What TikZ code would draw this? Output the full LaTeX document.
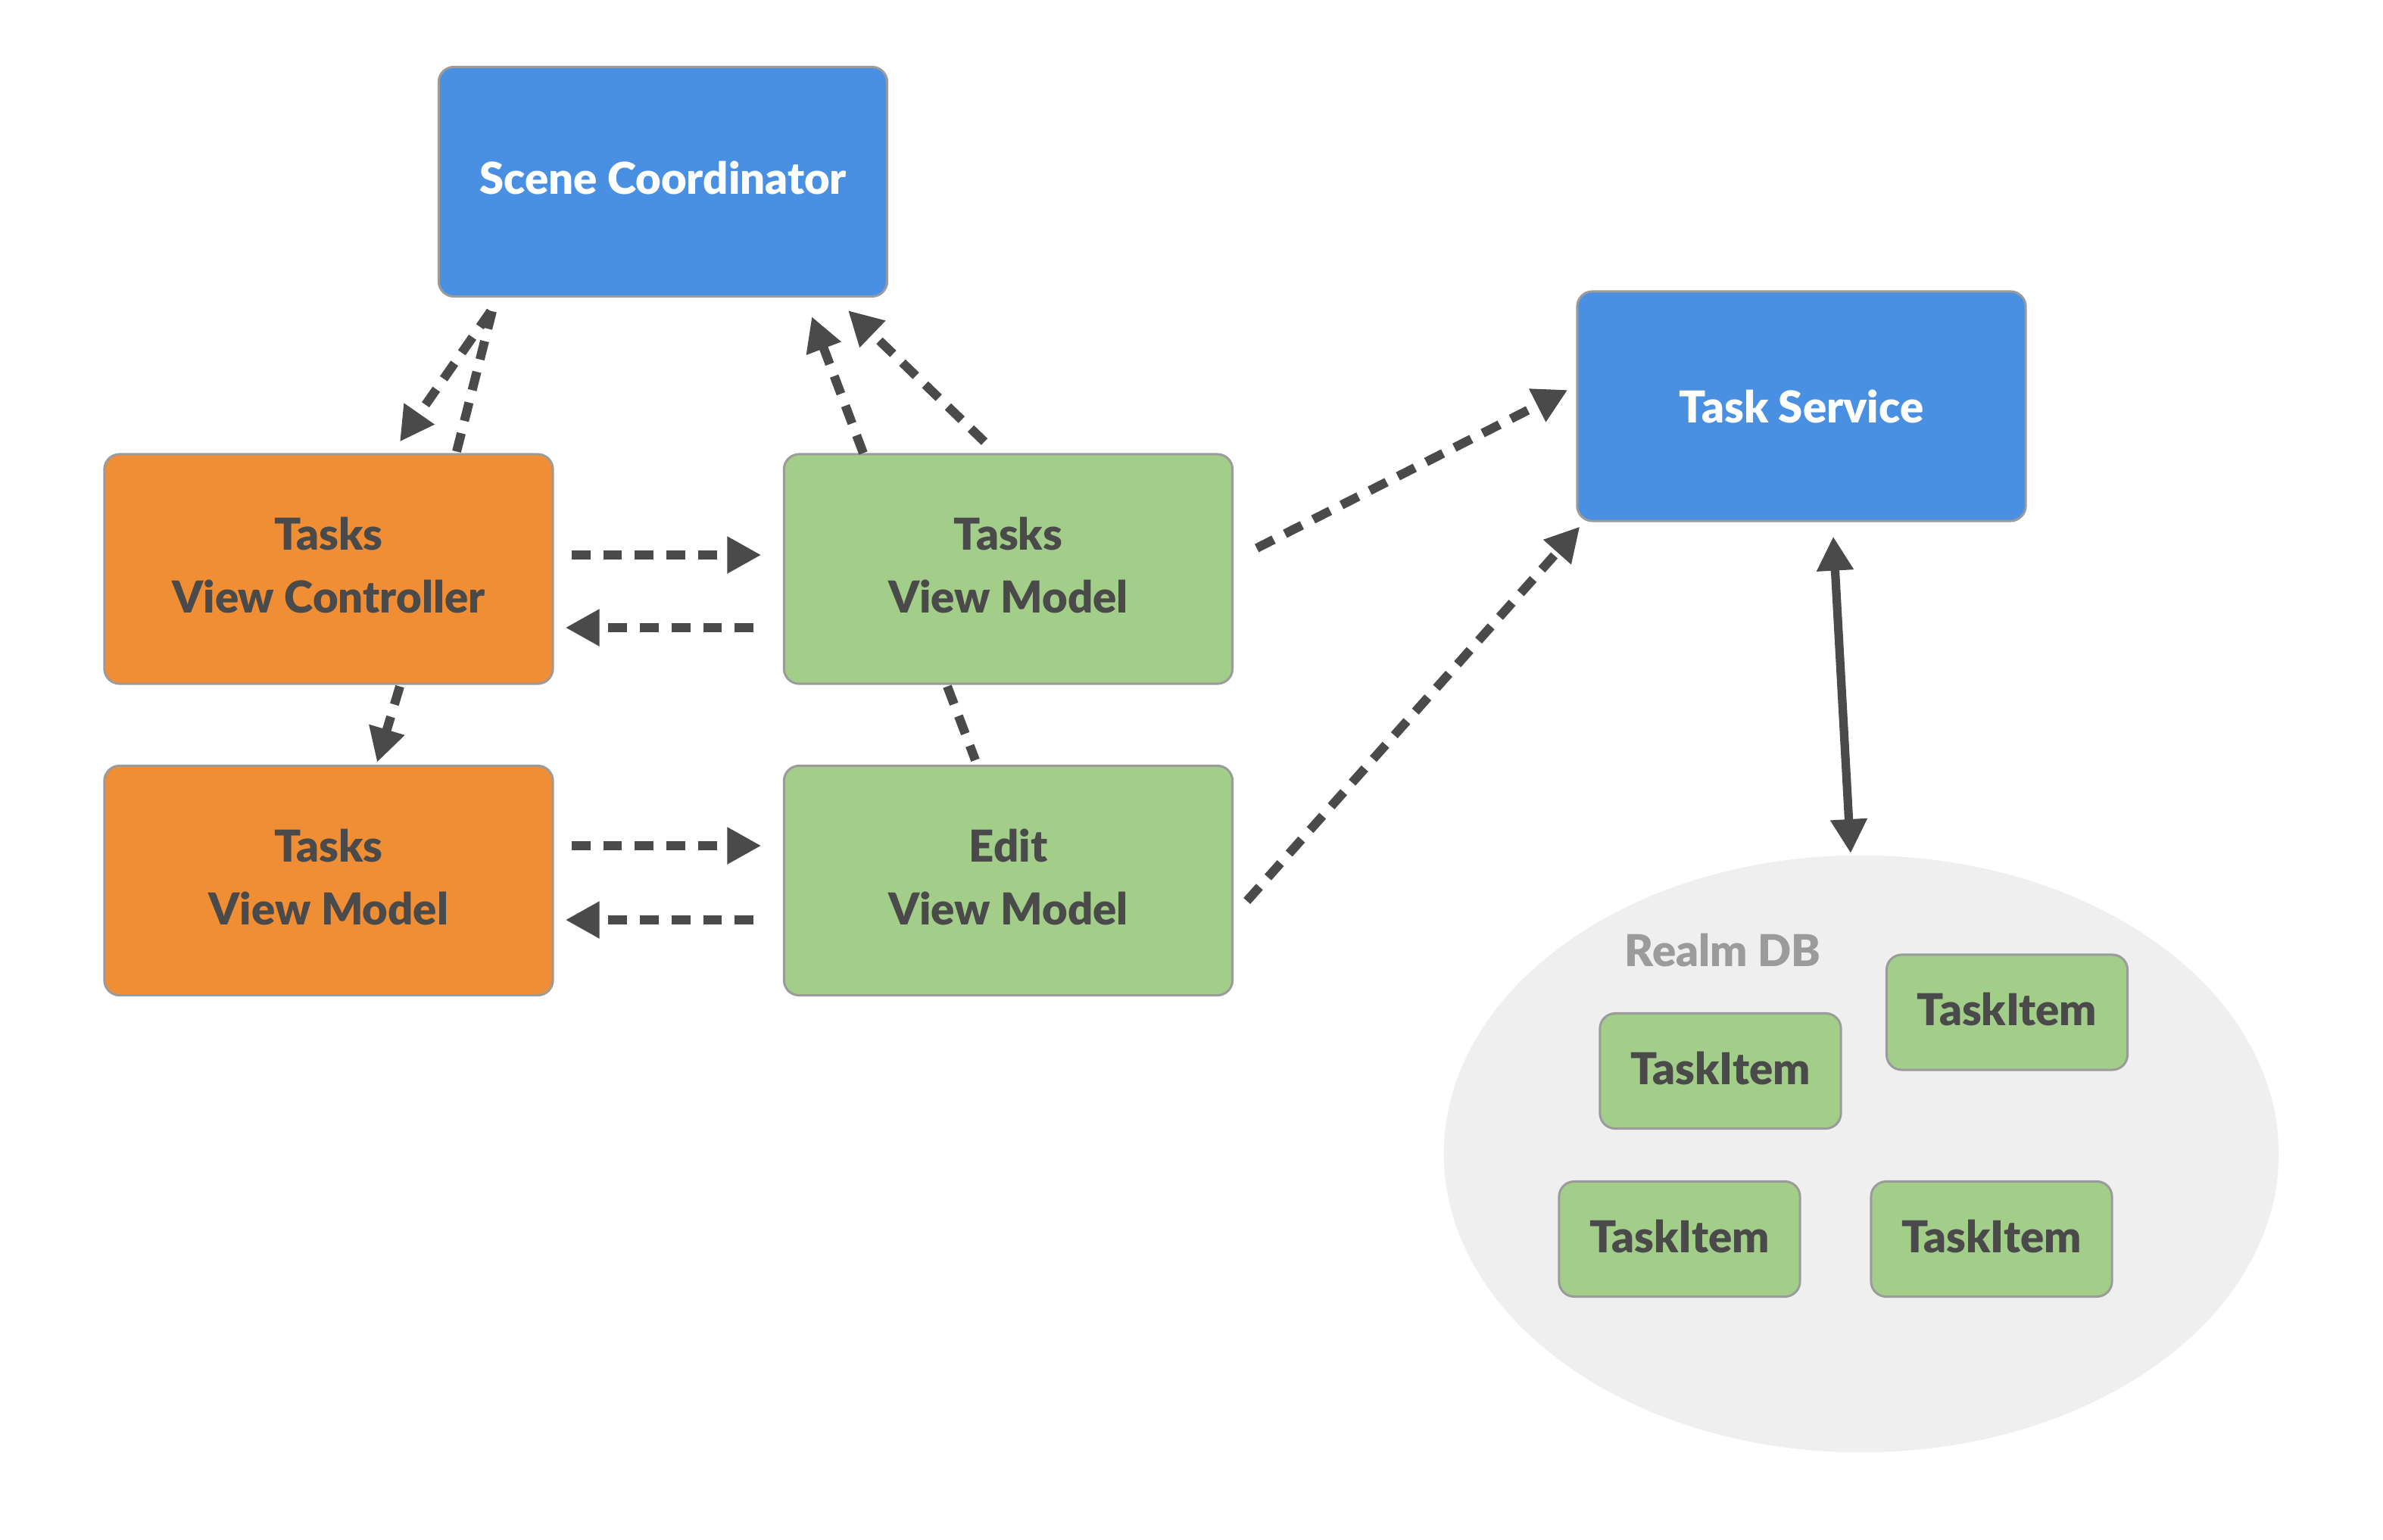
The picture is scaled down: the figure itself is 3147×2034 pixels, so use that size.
\documentclass[tikz,border=0pt]{standalone}
\usepackage{fontspec}
\setmainfont{Lato}[BoldFont={Lato Black}]
\usetikzlibrary{arrows.meta,calc,shapes.geometric}
\definecolor{cblue}{HTML}{4A90E2}
\definecolor{corange}{HTML}{EF8E35}
\definecolor{cgreen}{HTML}{A3CE89}
\definecolor{cborder}{HTML}{9B9B9B}
\definecolor{cdark}{HTML}{4A4A4A}
\definecolor{cdb}{HTML}{EFEFEF}
\definecolor{crealm}{HTML}{9B9B9B}
\begin{document}
\begin{tikzpicture}[x=0.01cm,y=-0.01cm,
  txt/.style={font=\fontsize{16.5}{23.6}\selectfont\bfseries},
  box/.style={draw=cborder, line width=0.85pt, rounded corners=0.2cm, inner sep=0pt,
    minimum width=5.92cm, minimum height=3.03cm, align=center, txt, text=cdark},
  bluebox/.style={box, fill=cblue, text=white},
  orangebox/.style={box, fill=corange},
  greenbox/.style={box, fill=cgreen},
  itembox/.style={box, fill=cgreen, minimum width=3.18cm, minimum height=1.52cm},
  dep/.style={draw=cdark, line width=3.4pt, dash pattern=on 7.1pt off 4.8pt},
  deparrow/.style={dep, -{Triangle[length=0.45cm,width=0.46cm]}},
  link/.style={draw=cdark, line width=3.2pt, {Triangle[length=0.45cm,width=0.46cm]}-{Triangle[length=0.45cm,width=0.46cm]}}
]
\useasboundingbox (0,0) rectangle (3147,2034);

% database ellipse
\node[ellipse, fill=cdb, inner sep=0pt, minimum width=11.02cm, minimum height=7.88cm] (DB) at (2458,1524) {};
\node[txt, text=crealm, inner sep=0pt] (realm) at (2275,1255) {Realm DB};

% boxes
\node[bluebox] (SC) at (875.5,240) {\raisebox{0.1cm}{Scene Coordinator}};
\node[orangebox] (TVC) at (434,751.5) {\raisebox{0.18cm}{\begin{tabular}{@{}c@{}}Tasks\\View Controller\end{tabular}}};
\node[greenbox] (TVMg) at (1331.5,751.5) {\raisebox{0.18cm}{\begin{tabular}{@{}c@{}}Tasks\\View Model\end{tabular}}};
\node[orangebox] (TVMo) at (434,1163) {\raisebox{0.18cm}{\begin{tabular}{@{}c@{}}Tasks\\View Model\end{tabular}}};
\node[greenbox] (EVM) at (1331.5,1163) {\raisebox{0.18cm}{\begin{tabular}{@{}c@{}}Edit\\View Model\end{tabular}}};
\node[bluebox] (TS) at (2379,536.5) {\raisebox{-0.02cm}{Task Service}};

\node[itembox] (TI1) at (2650.5,1337) {\raisebox{0.08cm}{TaskItem}};
\node[itembox] (TI2) at (2272,1414.5) {\raisebox{0.08cm}{TaskItem}};
\node[itembox] (TI3) at (2218,1636.5) {\raisebox{0.08cm}{TaskItem}};
\node[itembox] (TI4) at (2630,1636.5) {\raisebox{0.08cm}{TaskItem}};

% connectors
\draw[deparrow] ($(SC.south)+(-227.5,18)$) -- ($(TVC.north)+(94,-15)$);
\draw[dep] ($(TVC.north)+(169,-2)$) -- ($(SC.south)+(-225.5,18)$);
\draw[deparrow] ($(TVMg.north)+(-191.5,0)$) -- ($(SC.south)+(196.5,25)$);
\draw[deparrow] ($(TVMg.north)+(-31.5,-15)$) -- ($(SC.south)+(244.5,17)$);

\draw[deparrow] ($(TVC.east)+(23,-18.5)$) -- ($(TVMg.west)+(-28.5,-18.5)$);
\draw[deparrow] ($(TVMg.west)+(-38.5,77.5)$) -- ($(TVC.east)+(15,77.5)$);

\draw[deparrow] ($(TVC.south)+(94,2)$) -- ($(TVMo.north)+(64,-3)$);
\draw[dep] ($(TVMg.south)+(-80.5,2)$) -- ($(EVM.north)+(-43.5,-6)$);

\draw[deparrow] ($(TVMo.east)+(23,-46)$) -- ($(EVM.west)+(-28.5,-46)$);
\draw[deparrow] ($(EVM.west)+(-38.5,52)$) -- ($(TVMo.east)+(15,52)$);

\draw[deparrow] ($(TVMg.east)+(30.5,-27.5)$) -- ($(TS.west)+(-11,-21.5)$);
\draw[deparrow] ($(EVM.east)+(17.5,27)$) -- ($(TS.south west)+(5,6)$);

\draw[link] ($(TS.south)+(42,19)$) -- ($(DB.north)+(-14,-2)$);
\end{tikzpicture}
\end{document}
